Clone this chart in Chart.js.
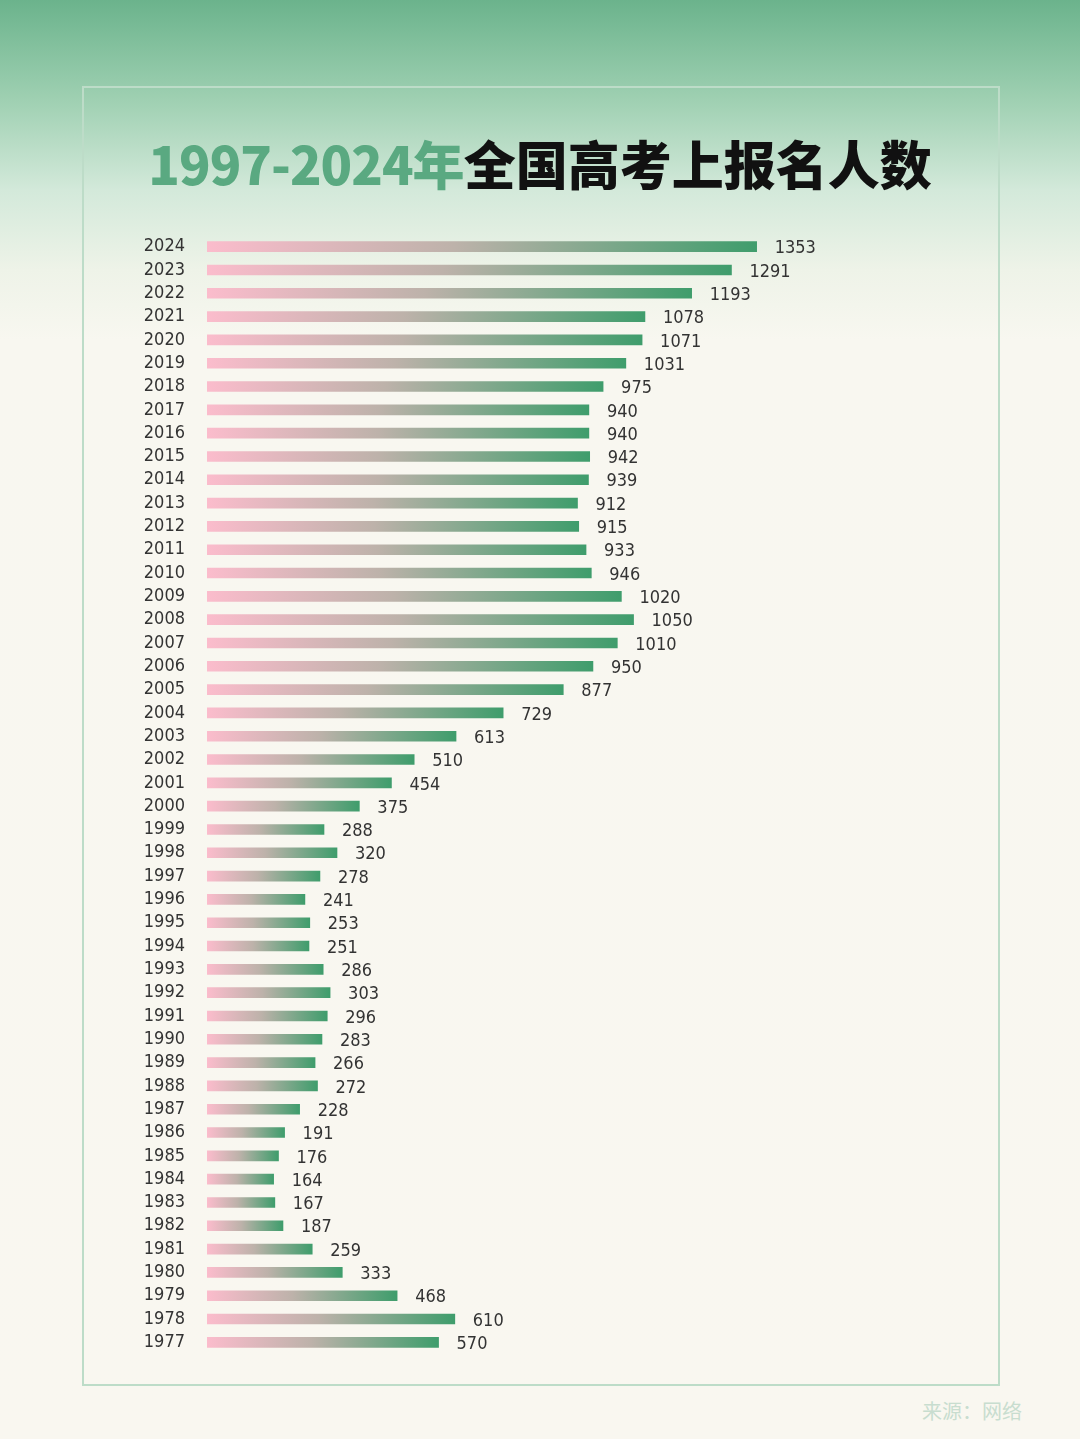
<!DOCTYPE html>
<html>
<head>
<meta charset="utf-8">
<script src="https://cdn.jsdelivr.net/npm/chart.js@4.4.1/dist/chart.umd.min.js"></script>
<style>
  html, body { margin: 0; padding: 0; }
  body {
    width: 1080px; height: 1439px; position: relative; overflow: hidden;
    background: linear-gradient(to bottom, #6bb38c 0px, #9fd0b2 100px, #d3e9da 190px, #eef3e8 270px, #f8f7f0 340px, #f9f7f0 1439px);
  }
  #box {
    position: absolute; left: 82px; top: 86px; width: 914px; height: 1296px;
    border: 2px solid #bddcc8;
  }
  #title {
    position: absolute; left: 0; top: 128px; width: 1080px; text-align: center;
    font-family: "Noto Sans CJK SC", sans-serif; font-weight: 900; font-size: 52px;
    color: #111; line-height: 70px; white-space: nowrap;
  }
  #title .num { color: #5aa981; letter-spacing: -1px; }
  #source {
    position: absolute; left: 922px; top: 1396px;
    font-family: "Noto Sans CJK SC", sans-serif; font-size: 20px; color: #c8ddcf;
  }
  #chart { position: absolute; left: 0; top: 0; }
</style>
</head>
<body>
<div id="box"></div>
<div id="title"><span class="num">1997-2024年</span>全国高考上报名人数</div>
<div id="source">来源：网络</div>
<canvas id="chart" width="1080" height="1439"></canvas>
<script>
// years from 2024 down to 1977
var years = ["2024","2023","2022","2021","2020","2019","2018","2017","2016","2015","2014","2013",
  "2012","2011","2010","2009","2008","2007","2006","2005","2004","2003","2002","2001",
  "2000","1999","1998","1997","1996","1995","1994","1993","1992","1991","1990","1989",
  "1988","1987","1986","1985","1984","1983","1982","1981","1980","1979","1978","1977"];
// applicants, 10k people
var applicants = [1353,1291,1193,1078,1071,1031,975,940,940,942,939,912,
  915,933,946,1020,1050,1010,950,877,729,613,510,454,
  375,288,320,278,241,253,251,286,303,296,283,266,
  272,228,191,176,164,167,187,259,333,468,610,570];

var labelFont = "'DejaVu Sans Condensed', 'Liberation Sans Narrow', sans-serif";

function barGradient(context) {
  var chart = context.chart;
  if (!chart.chartArea) return '#4ea376';
  var xs = chart.scales.x;
  var v = context.raw;
  var x0 = xs.getPixelForValue(0);
  var x1 = xs.getPixelForValue(v);
  var g = chart.ctx.createLinearGradient(x0, 0, x1, 0);
  g.addColorStop(0, '#fbbccc');
  g.addColorStop(0.45, '#bdb2aa');
  g.addColorStop(1, '#3f9d6c');
  return g;
}

var valueLabels = {
  id: 'valueLabels',
  afterDatasetsDraw: function(chart) {
    var ctx = chart.ctx;
    var meta = chart.getDatasetMeta(0);
    ctx.save();
    ctx.font = '18px ' + labelFont;
    ctx.fillStyle = '#333';
    ctx.textAlign = 'left';
    ctx.textBaseline = 'middle';
    meta.data.forEach(function(bar, i) {
      ctx.fillText(applicants[i], bar.x + 18, bar.y + 2);
    });
    ctx.restore();
  }
};

var ctx = document.getElementById('chart');
var myChart = new Chart(ctx, {
  type: 'bar',
  data: {
    labels: years,
    datasets: [{
      data: applicants,
      backgroundColor: barGradient,
      barThickness: 10,
      borderWidth: 0
    }]
  },
  options: {
    indexAxis: 'y',
    responsive: false,
    animation: false,
    layout: { padding: { top: 235, bottom: 85, right: 223, left: 0 } },
    plugins: { legend: { display: false }, tooltip: { enabled: false } },
    scales: {
      x: {
        min: 0, max: 1600,
        display: false
      },
      y: {
        grid: { display: false },
        border: { display: false },
        afterFit: function(scale) { scale.width = 207; },
        ticks: {
          autoSkip: false,
          padding: 14,
          color: '#333',
          font: { family: labelFont, size: 18 }
        }
      }
    }
  },
  plugins: [valueLabels]
});
</script>
</body>
</html>
